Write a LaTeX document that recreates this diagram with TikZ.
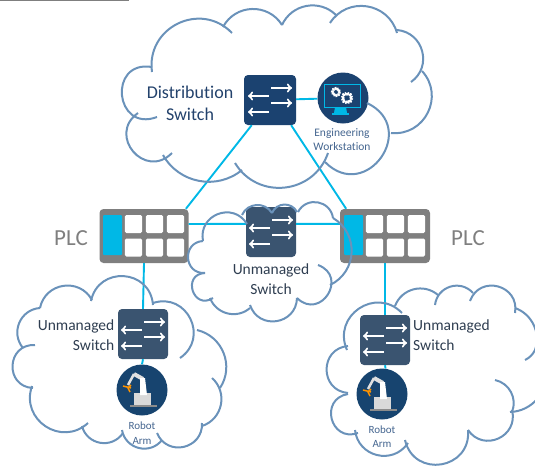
\documentclass[tikz,border=0pt]{standalone}
\usepackage{tikz}
\usepackage{xcolor}
\usepackage{fontspec}
\setmainfont[Ligatures=NoCommon]{Carlito}
\usetikzlibrary{positioning, arrows}

\definecolor{swdark}{HTML}{1B4270}
\definecolor{swslate}{HTML}{3A5470}
\definecolor{robotblue}{HTML}{17446F}
\definecolor{linkcyan}{HTML}{00B8E6}
\definecolor{cloudblue}{HTML}{6A92BA}
\definecolor{plcgrey}{HTML}{7F7F7F}
\definecolor{textnavy}{HTML}{23426C}
\definecolor{textslate}{HTML}{2E3D50}
\definecolor{textsmall}{HTML}{44658F}

\tikzset{
    link/.style={linkcyan, line width=1.9pt},
    lobe/.style={cloudblue, line width=2pt},
    bulge/.style={bend left=#1, looseness={(4/3)*tan(#1/2)/(2*sin(#1))/0.3915}},
    backbulge/.style={bend right=#1, looseness={(4/3)*tan(#1/2)/(2*sin(#1))/0.3915}},
    swbox/.style={rectangle, rounded corners=4pt, inner sep=0pt, minimum width=50pt, minimum height=50pt},
    plcbox/.style={rectangle, rounded corners=4pt, fill=plcgrey, inner sep=0pt, minimum width=89pt, minimum height=54pt},
    disc/.style={circle, inner sep=0pt, minimum size=51pt},
    bigtext/.style={inner sep=0pt, align=center, text=textnavy, font=\fontsize{18}{22}\selectfont},
    midtext/.style={inner sep=0pt, text=textslate, font=\fontsize{15.5}{20}\selectfont},
    smalltext/.style={inner sep=0pt, align=center, text=textsmall, font=\fontsize{11.5}{14}\selectfont},
    plctext/.style={inner sep=0pt, text=plcgrey, font=\fontsize{23}{24}\selectfont},
    swarrow/.style={white, line width=2.1pt, -to},
}

% four arrows of a switch, at the centre of its box
\newcommand{\swicon}[1]{
    \begin{scope}[shift={(#1.center)}]
        \draw[swarrow] (1, -12) -- (22, -12);
        \draw[swarrow] (1, 3) -- (22, 3);
        \draw[swarrow] (-1, -4) -- (-22, -4);
        \draw[swarrow] (-1, 12) -- (-22, 12);
    \end{scope}
}

% cyan block and six cells of a PLC
\newcommand{\plccells}[1]{
    \begin{scope}[shift={(#1.center)}]
        \fill[linkcyan, rounded corners=1pt] (-41, -21) rectangle (-22, 19);
        \foreach \cx in {-10.5, 10.5, 31.5}
            \foreach \cy in {-12, 11.5}
                \fill[white, rounded corners=1.5pt] (\cx-8.7, \cy-9) rectangle (\cx+8.7, \cy+9);
    \end{scope}
}

\newcommand{\roboticon}[1]{
    \begin{scope}[shift={(#1.center)}]
        \fill[black!15] (-8, 3) rectangle (8.5, 15);
        \fill[black!45] (-12, 15) rectangle (15, 17);
        \draw[black!12, line width=4pt] (-8, -16) -- (1, -11);
        \draw[black!12, line width=2.5pt] (-8, -16) -- (-14, -5);
        \fill[white] (-2, -12) -- (3, -12) -- (5, 5) -- (-2, 5) -- cycle;
        \draw[orange!85!yellow, line width=1.5pt] (-11, -2) -- (-15, -3) -- (-19, -4);
        \draw[orange!85!yellow, line width=1.5pt] (-11, -5) -- (-14, -2) -- (-12, 2);
    \end{scope}
}

\begin{document}
\begin{tikzpicture}[x=1pt, y=-1pt]
    \useasboundingbox (0, 0) rectangle (535, 466);

    \node[swbox, fill=swdark, minimum width=52pt] (dist) at (270, 100) {};
    \node[disc, fill=swdark] (station) at (343, 98) {};
    \node[plcbox] (plcl) at (144, 236) {};
    \node[plcbox, minimum width=90pt] (plcr) at (385, 236) {};
    \node[swbox, fill=swslate, minimum height=50pt] (unmanm) at (271, 232) {};
    \node[swbox, fill=swslate] (unmanl) at (143, 334) {};
    \node[swbox, fill=swslate] (unmanr) at (385, 340) {};
    \node[disc, fill=robotblue] (robotl) at (142, 390) {};
    \node[disc, fill=robotblue] (robotr) at (382, 394) {};

    \coordinate (rulea) at (0, 0.5);
    \coordinate (ruleb) at (129, 0.5);

    \draw[plcgrey, line width=1.2pt] (rulea) -- (ruleb);

    \plccells{plcl}
    \plccells{plcr}
    \swicon{dist}
    \swicon{unmanm}
    \swicon{unmanl}
    \swicon{unmanr}
    \roboticon{robotl}
    \roboticon{robotr}

    % monitor with two gears
    \begin{scope}[shift={(station.center)}]
        \draw[linkcyan, line width=1pt] (-19, -14) rectangle (17, 9);
        \fill[linkcyan] (-8, 9) -- (3, 9) -- (4, 15) -- (-9, 15) -- cycle;
        \fill[linkcyan] (-11, 15) rectangle (6, 17);
        \draw[white, line width=3pt, dash pattern=on 1.2pt off 1pt] (-7, -6) circle (3.6);
        \draw[white, line width=1.2pt] (-7, -6) circle (3.6);
        \draw[white, line width=3.4pt, dash pattern=on 1.3pt off 1.1pt] (4, 0) circle (4.6);
        \draw[white, line width=1.4pt] (4, 0) circle (4.6);
    \end{scope}

    \draw[link] (dist) -- (station);
    \draw[link] (dist.234) -- (plcl.33);
    \draw[link] (dist.310) -- (plcr.145);
    \draw[link] (plcl.15) -- (unmanm.162);
    \draw[link] (unmanm.18) -- (plcr.165);
    \draw[link] (plcl.south) -- (unmanl.north);
    \draw[link] (plcr.south) -- (unmanr.north);
    \draw[link] (unmanl.south) -- (robotl.north);
    \draw[link] (unmanr.south) -- (robotr.82);

    % top cloud
    \draw[lobe] (152, 72) to[bulge=72] (232, 33);
    \draw[lobe] (223, 27) to[bulge=60] (282, 25);
    \draw[lobe] (282, 25) to[bulge=55] (336, 15);
    \draw[lobe] (330, 23) to[bulge=66] (397, 33);
    \draw[lobe] (397, 30) to[bulge=70] (411, 82);
    \draw[lobe] (422, 71) to[bulge=69] (391, 133);
    \draw[lobe] (367, 103) to[bulge=100] (325, 162);
    \draw[lobe] (328, 153) to[bulge=65] (235, 163);
    \draw[lobe] (242, 170) to[bulge=50] (163, 155);
    \draw[lobe] (172, 153) to[bulge=95] (138, 113);
    \draw[lobe] (157, 117) to[bulge=105] (152, 67);

    % middle cloud
    \draw[lobe] (203, 241) to[bulge=80] (247, 224);
    \draw[lobe] (242, 215) to[bulge=62] (272, 213);
    \draw[lobe] (272, 213) to[bulge=65] (297, 212);
    \draw[lobe] (298, 212) to[bulge=72] (333, 218);
    \draw[lobe] (333, 218) to[bulge=62] (330, 285);
    \draw[lobe] (318, 265) to[bulge=102] (297, 298);
    \draw[lobe] (297, 298) to[bulge=80] (250, 305);
    \draw[lobe] (250, 308) to[bulge=55] (210, 298);
    \draw[lobe] (213, 298) to[bulge=105] (205, 273);
    \draw[lobe] (205, 273) to[bulge=90] (203, 241);

    % left cloud
    \draw[lobe] (91, 301) to[bulge=82] (153, 305);
    \draw[lobe] (153, 303) to[bulge=82] (180, 358);
    \draw[lobe] (197, 330) to[bulge=55] (220, 388);
    \draw[lobe] (212, 378) to[bulge=60] (202, 426);
    \draw[lobe] (202, 423) to[bulge=80] (157, 433);
    \draw[lobe] (162, 440) to[bulge=66] (122, 430);
    \draw[lobe] (123, 433) to[bulge=66] (82, 426);
    \draw[lobe] (88, 423) to[bulge=76] (32, 386);
    \draw[lobe] (33, 388) to[bulge=90] (35, 345);
    \draw[lobe] (23, 348) to[bulge=63] (40, 308);
    \draw[lobe] (40, 308) to[bulge=70] (92, 300);

    % right cloud
    \draw[lobe] (402, 313) to[backbulge=80] (347, 350);
    \draw[lobe] (348, 346) to[backbulge=85] (348, 393);
    \draw[lobe] (348, 394) to[backbulge=95] (358, 433);
    \draw[lobe] (355, 430) to[backbulge=70] (408, 443);
    \draw[lobe] (405, 440) to[backbulge=86] (468, 430);
    \draw[lobe] (468, 430) to[backbulge=80] (512, 410);
    \draw[lobe] (495, 380) to[bulge=50] (512, 412);
    \draw[lobe] (510, 412) to[backbulge=25] (538, 398);
    \draw[lobe] (525, 360) to[backbulge=20] (535, 350);
    \draw[lobe] (535, 350) to[backbulge=45] (515, 308);
    \draw[lobe] (515, 313) to[backbulge=85] (470, 301);
    \draw[lobe] (473, 293) to[backbulge=66] (435, 305);
    \draw[lobe] (438, 295) to[backbulge=55] (395, 306);

    \node[bigtext] (distlabel) at (190, 103) {Distribution\\Switch};
    \node[smalltext] (stationlabel) at (342, 140) {Engineering\\Workstation};
    \node[plctext] (plcllabel) at (71, 238) {PLC};
    \node[plctext] (plcrlabel) at (468, 238) {PLC};
    \node[midtext, align=center] (unmanmlabel) at (271, 279) {Unmanaged\\Switch};
    \node[midtext, align=right, anchor=east] (unmanllabel) at (114.5, 335) {Unmanaged\\Switch};
    \node[midtext, align=left, anchor=west] (unmanrlabel) at (413, 335) {Unmanaged\\Switch};
    \node[smalltext, font=\fontsize{11}{15}\selectfont] (robotllabel) at (142, 433) {Robot\\Arm};
    \node[smalltext, font=\fontsize{11}{14}\selectfont] (robotrlabel) at (382, 437) {Robot\\Arm};
\end{tikzpicture}
\end{document}
